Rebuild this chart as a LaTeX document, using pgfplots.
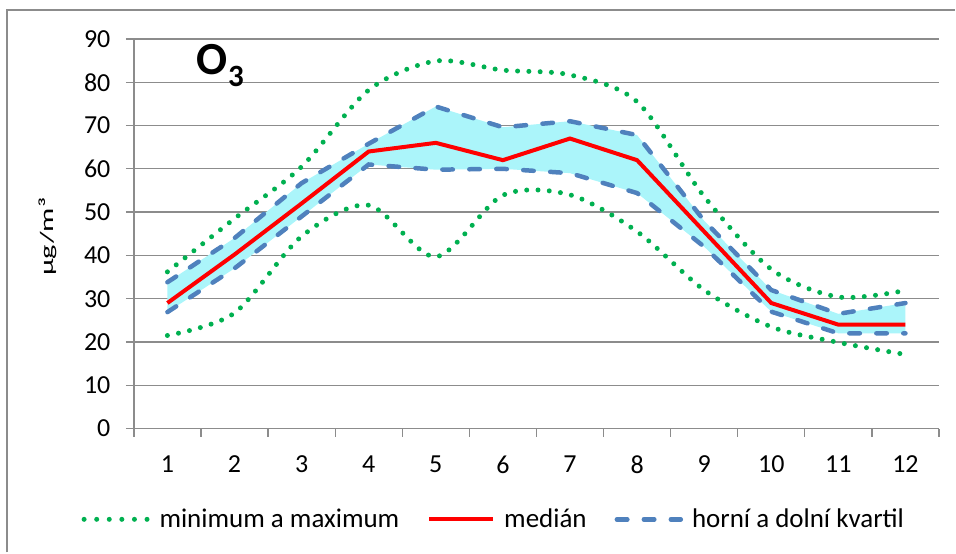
\documentclass[border=0pt]{standalone}
\usepackage{pgfplots}
\pgfplotsset{compat=1.18}
\usepgfplotslibrary{fillbetween}
\usepackage{fontspec}
\setmainfont{Carlito}
\definecolor{gridgray}{HTML}{8C8C8C}
\definecolor{mygreen}{HTML}{00B050}
\definecolor{myred}{HTML}{FF0000}
\definecolor{myblue}{HTML}{4F81BD}
\definecolor{myfill}{HTML}{ABF5FA}
\begin{document}
\begin{tikzpicture}
\begin{axis}[
  name=ax,
  scale only axis, width=806pt, height=390pt,
  xmin=0.5, xmax=12.5, ymin=0, ymax=90,
  axis x line*=bottom, axis y line*=left,
  axis line style={draw=gridgray, line width=1.3pt},
  xtick={0.5,1.5,...,12.5},
  xticklabels={1,2,3,4,5,6,7,8,9,10,11,12},
  x tick label as interval,
  ytick={0,10,...,90},
  ymajorgrids,
  grid style={draw=gridgray, line width=1.3pt},
  tick style={draw=gridgray, line width=1.3pt},
  major tick length=8pt,
  tick align=outside,
  /pgf/number format/assume math mode=true,
  tick label style={font=\fontsize{26}{26}\selectfont},
  yticklabel style={xshift=-12pt},
  xticklabel style={yshift=-16pt},
  legend columns=3,
  legend style={at={(0.447,-0.233)}, anchor=center, draw=none, fill=none,
    font=\fontsize{27}{27}\selectfont,
    /tikz/every odd column/.style={column sep=7pt},
    /tikz/every even column/.style={column sep=26pt}},
  legend image code/.code={\draw[#1] (0pt,0pt) -- (64pt,0pt);},
  clip=false,
]
% quartiles (for fill)
\addplot[name path=up, draw=none, forget plot] coordinates {
(1,33.8) (2,44) (3,56.7) (4,65.8) (5,74.4) (6,69.6) (7,71) (8,67.8) (9,48) (10,32) (11,26.5) (12,29)};
\addplot[name path=lo, draw=none, forget plot] coordinates {
(1,26.9) (2,37) (3,49) (4,61) (5,59.8) (6,60) (7,59) (8,54.4) (9,42) (10,27) (11,22) (12,22)};
\addplot[myfill, forget plot] fill between[of=up and lo];
% max / min
\addplot[mygreen, line width=5pt, line cap=round, dash pattern=on 0pt off 11.3pt, smooth, forget plot] coordinates {
(1,36.2) (2,48.5) (3,60.5) (4,78.2) (5,84.9) (6,82.8) (7,81.7) (8,75.5) (9,53.6) (10,36.8) (11,30.4) (12,31.9)};
\addplot[mygreen, line width=5pt, line cap=round, dash pattern=on 0pt off 11.3pt, smooth, forget plot] coordinates {
(1,21.5) (2,26.7) (3,44.4) (4,51.6) (5,39.7) (6,53.9) (7,54) (8,45.5) (9,32) (10,23.5) (11,19.9) (12,17.1)};
% quartile lines
\addplot[myblue, line width=4.5pt, line cap=round, dash pattern=on 10.5pt off 16.5pt, forget plot] coordinates {
(1,33.8) (2,44) (3,56.7) (4,65.8) (5,74.4) (6,69.6) (7,71) (8,67.8) (9,48) (10,32) (11,26.5) (12,29)};
\addplot[myblue, line width=4.5pt, line cap=round, dash pattern=on 10.5pt off 16.5pt, forget plot] coordinates {
(1,26.9) (2,37) (3,49) (4,61) (5,59.8) (6,60) (7,59) (8,54.4) (9,42) (10,27) (11,22) (12,22)};
% median
\addplot[myred, line width=4pt, forget plot] coordinates {
(1,29) (2,40.2) (3,52) (4,64) (5,66) (6,62) (7,67) (8,62) (9,45.5) (10,29) (11,24) (12,24)};
\addlegendimage{mygreen, line width=5pt, line cap=round, dash pattern=on 0pt off 12.6pt}
\addlegendentry{minimum a maximum}
\addlegendimage{myred, line width=4pt}
\addlegendentry{medián}
\addlegendimage{myblue, line width=4.5pt, line cap=round, dash pattern=on 10.5pt off 16.5pt}
\addlegendentry{horní a dolní kvartil}
\node[anchor=base west, inner sep=0pt] at (axis cs:1.4375,81.7)
  {\fontsize{46}{46}\selectfont\bfseries O\raisebox{-12pt}{\fontsize{31}{31}\selectfont 3}};
\node[rotate=90, inner sep=0pt] at (rel axis cs:-0.1067,0.492)
  {\scalebox{1.6}[1]{\fontsize{19}{19}\selectfont µg/m³}};
\end{axis}
\path ([shift={(-134pt,-124pt)}]ax.south west) rectangle ++(956pt,553pt);
\draw[gridgray, line width=2pt] ([shift={(-127pt,-124pt)}]ax.south west) -- ([shift={(-127pt,419pt)}]ax.south west) -- ([shift={(822pt,419pt)}]ax.south west);
\end{tikzpicture}
\end{document}
